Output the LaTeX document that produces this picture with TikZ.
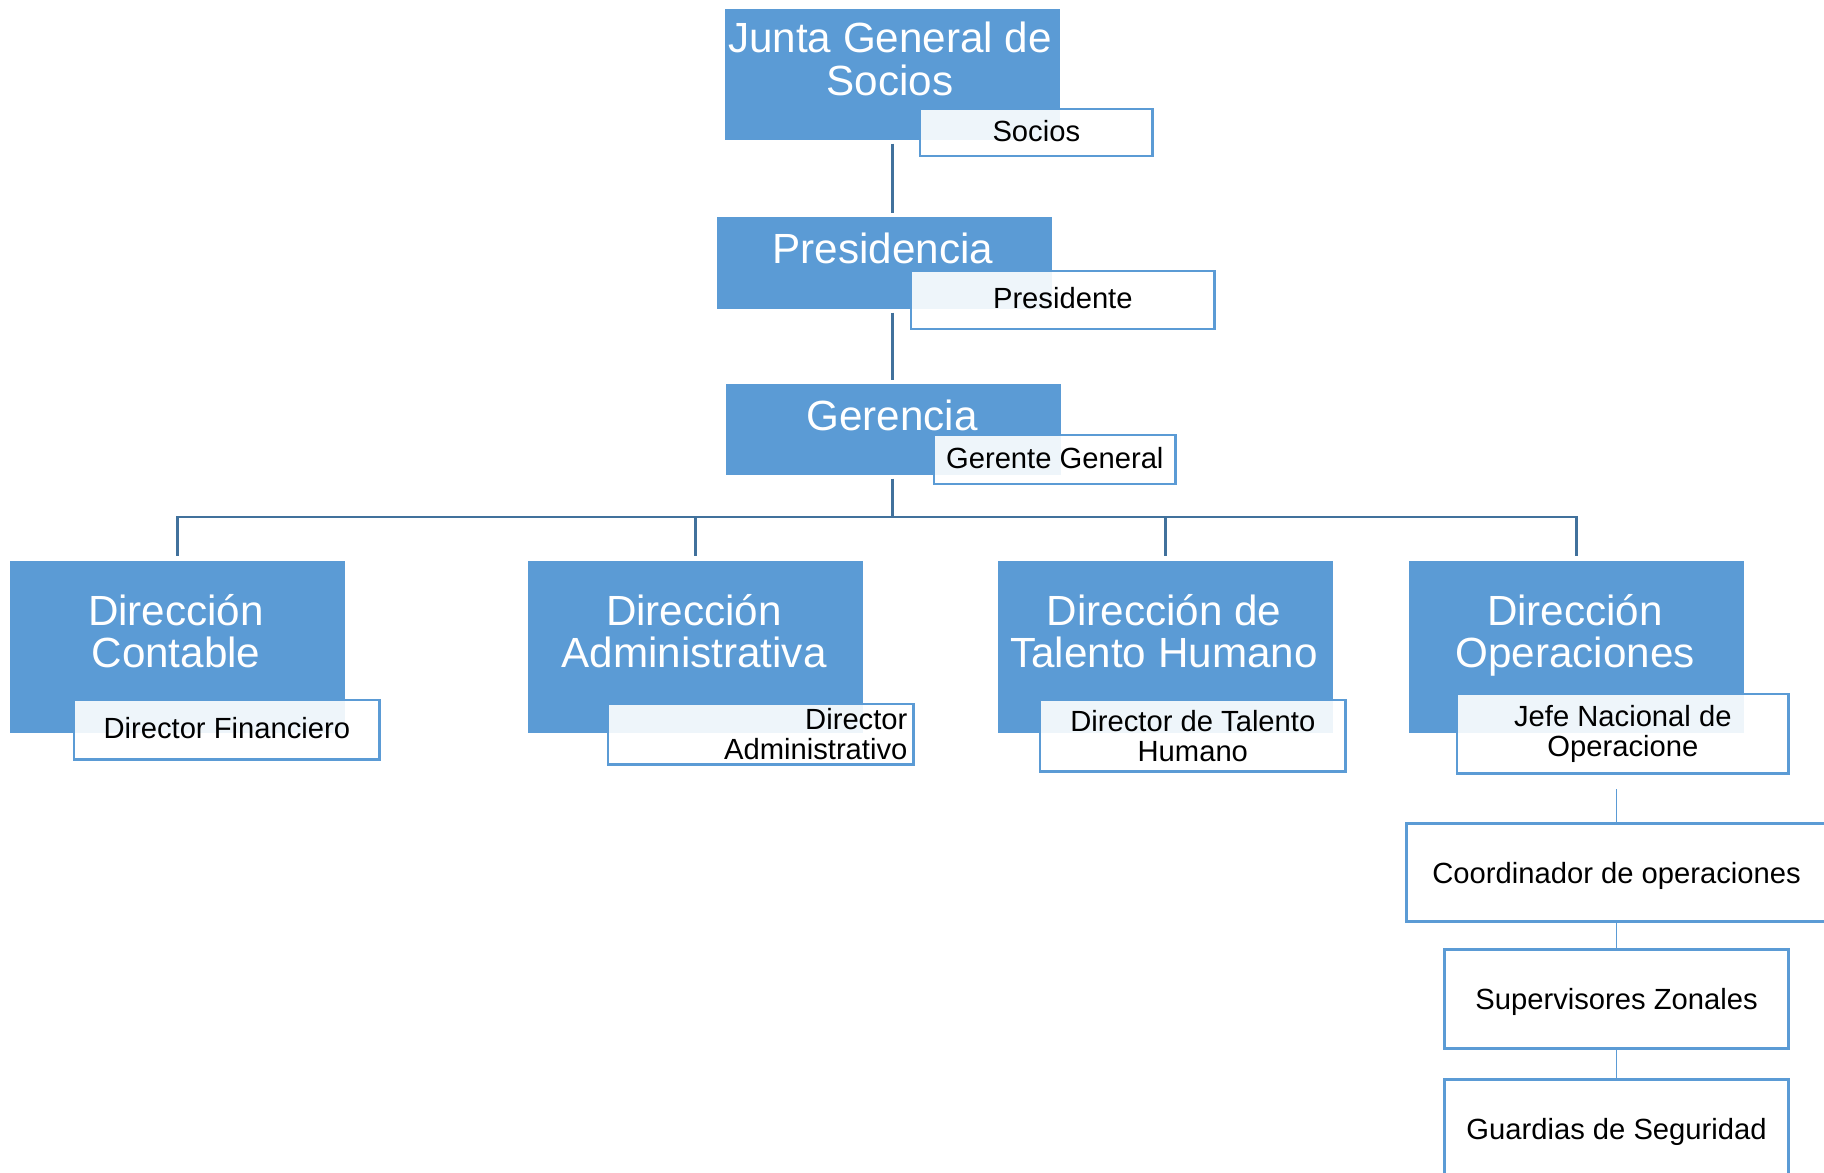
\documentclass[tikz,border=0pt]{standalone}
\usepackage{fontspec}
\setmainfont{Liberation Sans}
\definecolor{unitblue}{HTML}{5B9BD5}
\definecolor{linkblue}{HTML}{41719C}
\tikzset{
  unit/.style={fill=unitblue, anchor=north west, inner sep=0pt, minimum width=3.35cm},
  unitname/.style={text=white, align=center, inner sep=0pt, font=\fontsize{12}{12}\selectfont},
  role/.style={draw=unitblue, line width=0.7pt, fill=white, fill opacity=0.9, text opacity=1,
    anchor=north west, inner sep=0pt, align=center, font=\fontsize{8.3}{8.6}\selectfont},
  oneline/.style={text height=6.2pt, text depth=1.3pt},
  post/.style={draw=unitblue, line width=0.8pt, fill=white, anchor=north west, inner sep=0pt,
    minimum width=3.44cm, minimum height=0.99cm, text depth=0pt, font=\fontsize{8.3}{8.6}\selectfont},
  link/.style={draw=linkblue, line width=0.85pt},
  sublink/.style={draw=unitblue, line width=0.35pt}
}

\begin{document}
\begin{tikzpicture}[x=0.01cm,y=-0.01cm]
\useasboundingbox (0,0) rectangle (1824,1173);

% top of the chart
\node[unit, minimum height=1.31cm] (junta) at (724,8) {};
\node[unitname] (junta-t) at (890,59) {Junta General de\\Socios};
\node[role, oneline, minimum width=2.32cm, minimum height=0.47cm] (socios) at (919,108) {Socios};

\node[unit, minimum height=0.92cm] (presi) at (716,216) {};
\node[unitname] (presi-t) at (883,248) {Presidencia};
\node[role, oneline, minimum width=3.03cm, minimum height=0.58cm] (presidente) at (910,270) {Presidente};

\node[unit, minimum height=0.91cm] (ger) at (725,383) {};
\node[unitname] (ger-t) at (892,415) {Gerencia};
\node[role, oneline, minimum width=2.41cm, minimum height=0.49cm] (gerente) at (933,434) {Gerente General};

% direcciones
\node[unit, minimum height=1.72cm] (dc) at (9,560) {};
\node[unitname] (dc-t) at (176,631) {Dirección\\Contable};
\node[role, oneline, minimum width=3.05cm, minimum height=0.59cm] (dfin) at (73,699) {Director Financiero};

\node[unit, minimum height=1.72cm] (da) at (527,560) {};
\node[unitname] (da-t) at (694,631) {Dirección\\Administrativa};
\node[role, text width=2.93cm, inner xsep=0.06cm, align=right, minimum height=0.6cm] (dadm) at (607,703) {Director\\Administrativo};

\node[unit, minimum height=1.72cm] (dt) at (997,560) {};
\node[unitname] (dt-t) at (1164,631) {Dirección de\\Talento Humano};
\node[role, minimum width=3.05cm, minimum height=0.71cm] (dth) at (1039,699) {Director de Talento\\Humano};

\node[unit, minimum height=1.72cm] (dop) at (1408,560) {};
\node[unitname] (dop-t) at (1575,635) {Dirección\\Operaciones};
\node[role, minimum width=3.31cm, minimum height=0.79cm] (jefe) at (1456,693) {Jefe Nacional de\\Operacione};

% operaciones
\node[post, minimum width=4.2cm, minimum height=0.98cm] (coord) at (1405,822) {Coordinador de operaciones};
\node[post] (super) at (1443,948) {Supervisores Zonales};
\node[post] (guard) at (1443,1078) {Guardias de Seguridad};

% lines
\coordinate (bus) at (0,517);
\draw[link, shorten <=0.9pt, shorten >=0.9pt] (junta.south) -- (junta.south |- presi.north);
\draw[link, shorten <=0.9pt, shorten >=0.9pt] (junta.south |- presi.south) -- (junta.south |- ger.north);
\draw[link, shorten <=0.9pt] (junta.south |- ger.south) -- (junta.south |- bus);
\foreach \d in {dc,da,dt,dop}
  \draw[link, shorten >=1pt] (junta.south |- bus) -| (\d.north);

\draw[sublink, shorten >=4.2pt] (coord.north) -- (coord.north |- jefe.south);
\draw[sublink] (coord.south) -- (coord.south |- super.north);
\draw[sublink] (coord.south |- super.south) -- (coord.south |- guard.north);
\end{tikzpicture}
\end{document}
